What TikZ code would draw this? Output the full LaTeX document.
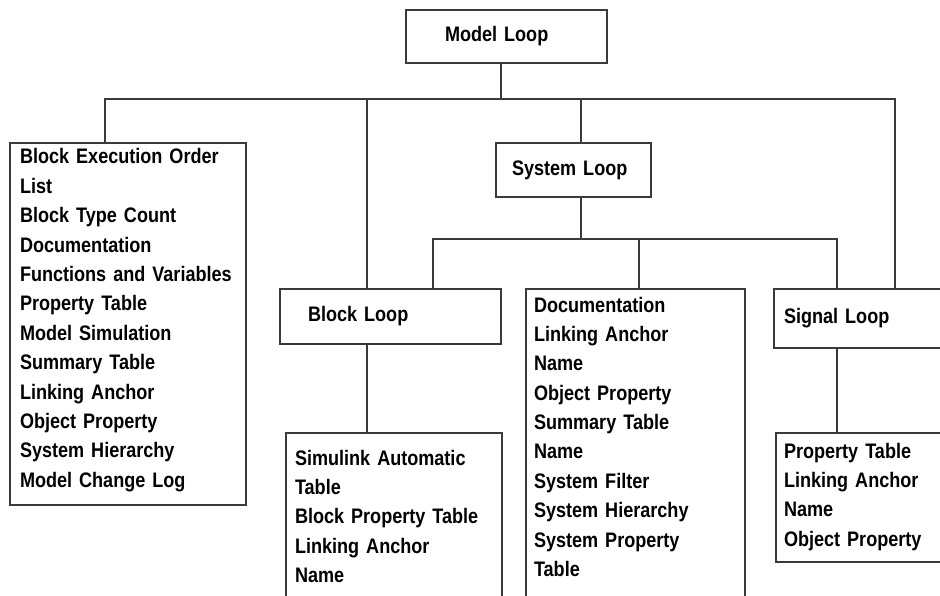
\documentclass[tikz,border=0pt]{standalone}
\usepackage{fontspec}
\usepackage{xcolor,tikz}
\usetikzlibrary{positioning,calc}
\setmainfont{Liberation Sans}[FakeStretch=0.86]
\definecolor{ink}{RGB}{58,58,58}
\definecolor{paper}{RGB}{255,255,255}
\newcommand\loopfont{\fontsize{21}{29.4}\selectfont\bfseries}
\tikzset{
  frame/.style={draw=ink, line width=2pt, fill=paper, outer sep=0pt, font=\loopfont, anchor=north west},
  loopbox/.style={frame, align=left, inner ysep=0pt},
  itemlist/.style={frame, align=left, inner ysep=0pt},
  link/.style={draw=ink, line width=2pt}
}
\begin{document}
\begin{tikzpicture}[x=1pt,y=-1pt]
  \useasboundingbox (0,0) rectangle (940,596);
  \clip (0,0) rectangle (940,596);
  % taps on the two buses
  \coordinate (busW) at (105,99);
  \coordinate (busE) at (895,99);
  \coordinate (tapM) at (501,99);
  \coordinate (tapB) at (367,99);
  \coordinate (tapS) at (581,99);
  \coordinate (subW) at (433,239);
  \coordinate (subE) at (837,239);
  \coordinate (tapT) at (639,239);
  % loop boxes
  \node[loopbox, text width=123pt, inner xsep=39pt, minimum height=53pt] (model) at (406,10) {Model Loop};
  \node[loopbox, text width=123pt, inner xsep=16pt, minimum height=54pt] (sys) at (496,143) {System Loop};
  \node[loopbox, text width=165pt, inner xsep=28pt, minimum height=55pt] (blockloop) at (280,289) {Block Loop};
  \node[loopbox, text width=230pt, inner xsep=10pt, minimum height=59pt] (signal) at (774,289) {Signal Loop};
  % item lists
  \node[itemlist, text width=216pt, inner xsep=10pt, text height=21pt, text depth=341pt] (listM) at (10,143)
    {Block Execution Order\\List\\Block Type Count\\Documentation\\Functions and Variables\\Property Table\\Model Simulation\\Summary Table\\Linking Anchor\\Object Property\\System Hierarchy\\Model Change Log};
  \node[itemlist, text width=198pt, inner xsep=9pt, text height=32pt, text depth=200pt] (listB) at (286,433)
    {Simulink Automatic\\Table\\Block Property Table\\Linking Anchor\\Name};
  \node[itemlist, text width=203pt, inner xsep=8pt, text height=23pt, text depth=320pt] (listS) at (526,289)
    {Documentation\\Linking Anchor\\Name\\Object Property\\Summary Table\\Name\\System Filter\\System Hierarchy\\System Property\\Table};
  \node[itemlist, text width=220pt, inner xsep=8pt, text height=25pt, text depth=104pt] (listG) at (776,433)
    {Property Table\\Linking Anchor\\Name\\Object Property};
  % tree
  \draw[link] (model.south -| tapM) -- (tapM);
  \draw[link] (listM.north -| busW) -- (busW) -- (busE) -- (busE |- signal.north);
  \draw[link] (tapB) -- (tapB |- blockloop.north);
  \draw[link] (blockloop.south -| tapB) -- (tapB |- listB.north);
  \draw[link] (tapS) -- (tapS |- sys.north);
  \draw[link] (sys.south -| tapS) -- (tapS |- subW);
  \draw[link] (blockloop.north -| subW) -- (subW) -- (subE) -- (subE |- signal.north);
  \draw[link] (tapT) -- (tapT |- listS.north);
  \draw[link] (signal.south -| subE) -- (subE |- listG.north);
\end{tikzpicture}
\end{document}
